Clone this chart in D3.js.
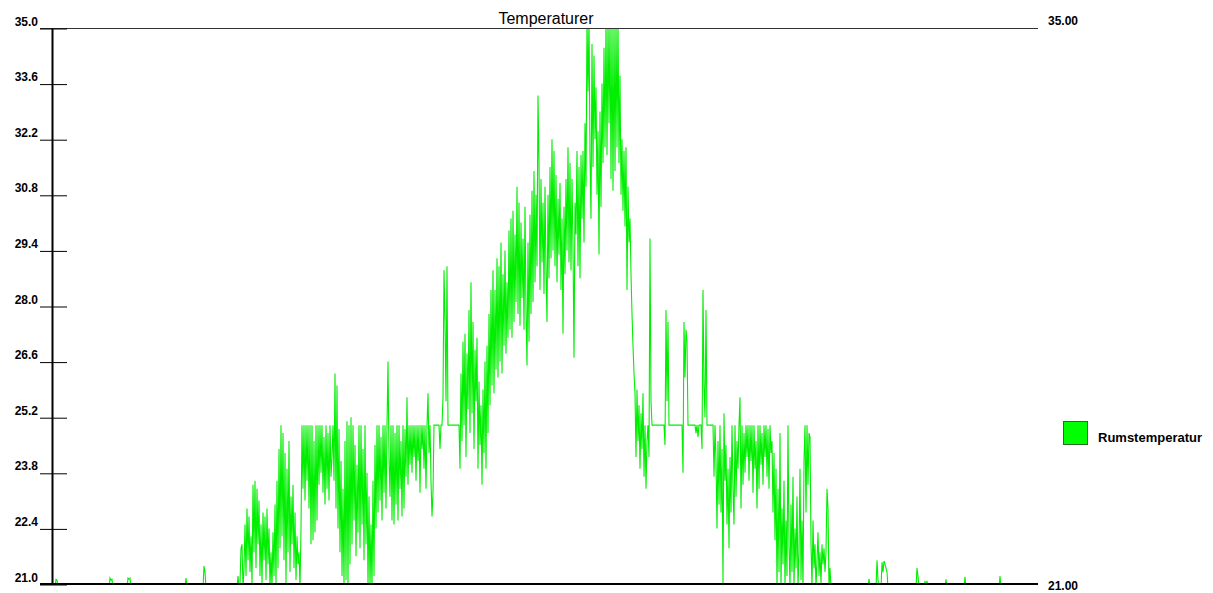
<html>
  <head>
    <title>Temperaturer</title>
    <meta charset="utf-8" />
    <script src="https://cdnjs.cloudflare.com/ajax/libs/d3/7.6.1/d3.min.js"></script>
    <style>
      body {
        margin: 0;
        background: #ffffff;
      }
      svg {
        display: block;
        font-family: Arial, "Liberation Sans", sans-serif;
      }
      .ylab text {
        font-size: 12px;
        font-weight: bold;
        fill: #000;
      }
    </style>
  </head>
  <body>
    <svg width="1213" height="593"></svg>
  </body>

  <script>
    const chartTitle = "Temperaturer";
    const seriesName = "Rumstemperatur";
    const yTicks = [21.0, 22.4, 23.8, 25.2, 26.6, 28.0, 29.4, 30.8, 32.2, 33.6, 35.0];
    const rightTicks = [35, 21];

    // one reading per pixel column of the original plot
    const rumstemperatur = [
      20.9, 20.9, 20.9, 20.9, 21.12, 21.1, 20.9, 20.9, 20.9, 20.9, 20.9, 20.9, 20.9, 20.9, 20.9, 20.9, 20.9, 20.9, 20.9, 20.9,
      20.9, 20.9, 20.9, 20.9, 20.9, 20.9, 20.9, 20.9, 20.9, 20.9, 20.9, 20.9, 20.9, 20.9, 20.9, 20.9, 20.9, 20.9, 20.9, 20.9,
      20.9, 20.9, 20.9, 20.9, 20.9, 20.9, 20.9, 20.9, 20.9, 20.9, 20.9, 20.9, 20.9, 20.9, 20.9, 20.9, 20.9, 20.9, 21.15, 21.1,
      21.12, 20.9, 20.9, 20.9, 20.9, 20.9, 20.9, 20.9, 20.9, 20.9, 20.9, 20.9, 20.9, 20.9, 20.9, 20.9, 21.15, 21.12, 21.15, 20.9,
      20.9, 20.9, 20.9, 20.9, 20.9, 20.9, 20.9, 20.9, 20.9, 20.9, 20.9, 20.9, 20.9, 20.9, 20.9, 20.9, 20.9, 20.9, 20.9, 20.9,
      20.9, 20.9, 20.9, 20.9, 20.9, 20.9, 20.9, 20.9, 20.9, 20.9, 20.9, 20.9, 20.9, 20.9, 20.9, 20.9, 20.9, 20.9, 20.9, 20.9,
      20.9, 20.9, 20.9, 20.9, 20.9, 20.9, 20.9, 20.9, 20.9, 20.9, 20.9, 20.9, 20.9, 20.9, 21.15, 20.9, 20.9, 20.9, 20.9, 20.9,
      20.9, 20.9, 20.9, 20.9, 20.9, 20.9, 20.9, 20.9, 20.9, 20.9, 20.9, 20.9, 21.45, 21.3, 20.9, 20.9, 20.9, 20.9, 20.9, 20.9,
      20.9, 20.9, 20.9, 20.9, 20.9, 20.9, 20.9, 20.9, 20.9, 20.9, 20.9, 20.9, 20.9, 20.9, 20.9, 20.9, 20.9, 20.9, 20.9, 20.9,
      20.9, 20.9, 20.9, 20.9, 20.9, 20.9, 21.2, 20.9, 21.0, 21.9, 22.0, 20.9, 21.4, 22.5, 21.2, 22.9, 21.6, 22.7, 21.3, 22.2,
      21.0, 23.5, 21.8, 23.6, 21.4, 23.4, 22.0, 23.1, 21.2, 22.5, 21.0, 22.8, 21.6, 22.7, 21.1, 22.9, 21.5, 22.4, 20.9, 21.8,
      20.9, 22.3, 21.2, 23.0, 21.0, 23.6, 21.4, 24.4, 21.9, 25.0, 22.2, 24.8, 21.6, 24.3, 21.0, 23.9, 21.8, 24.6, 21.3, 23.2,
      22.0, 23.5, 21.4, 22.8, 21.1, 22.2, 21.5, 21.8, 20.9, 22.4, 25.0, 23.4, 25.0, 23.1, 25.0, 23.6, 25.0, 22.9, 25.0, 22.0,
      25.0, 22.1, 24.6, 22.3, 25.0, 22.6, 25.0, 23.5, 25.0, 23.8, 25.0, 23.3, 24.7, 23.0, 25.0, 23.4, 24.8, 23.1, 25.0, 23.7,
      24.2, 25.0, 23.6, 26.3, 22.9, 26.0, 22.4, 24.9, 21.8, 24.1, 21.2, 23.4, 20.9, 24.6, 21.1, 25.1, 20.9, 25.0, 21.5, 25.2,
      22.0, 25.0, 22.6, 24.5, 21.7, 24.0, 22.3, 25.0, 21.9, 25.0, 22.5, 24.4, 21.6, 25.0, 22.0, 23.8, 20.9, 23.2, 20.9, 22.5,
      20.9, 23.6, 21.2, 24.5, 22.4, 25.0, 22.8, 25.0, 23.1, 24.7, 22.6, 25.0, 23.3, 25.0, 22.9, 25.0, 26.6, 24.2, 23.2, 25.0,
      22.6, 25.0, 22.5, 24.8, 23.0, 25.0, 22.6, 25.0, 23.4, 24.6, 22.7, 25.0, 22.9, 24.9, 23.7, 25.7, 23.5, 25.0, 24.0, 25.0,
      23.8, 25.0, 24.2, 25.0, 23.6, 25.0, 24.1, 25.0, 23.3, 25.0, 24.4, 25.0, 23.9, 25.0, 23.4, 25.0, 25.8, 24.3, 25.0, 23.6,
      22.7, 23.3, 25.0, 25.0, 25.0, 25.0, 25.0, 25.0, 24.4, 25.0, 25.0, 25.7, 28.9, 27.6, 25.6, 29.0, 25.0, 25.0, 25.0, 25.0,
      25.0, 25.0, 25.0, 25.0, 25.0, 25.0, 25.0, 25.0, 23.9, 26.3, 24.6, 27.1, 25.0, 27.3, 24.2, 26.8, 25.4, 27.9, 24.8, 28.6,
      25.3, 27.6, 24.4, 26.9, 25.6, 27.2, 23.9, 26.1, 24.5, 25.5, 23.5, 25.9, 24.3, 26.6, 23.9, 27.0, 24.8, 27.8, 25.5, 28.4,
      26.0, 28.9, 25.8, 28.4, 26.4, 29.2, 26.2, 29.0, 26.6, 29.6, 26.3, 28.8, 27.0, 29.4, 26.8, 28.6, 27.2, 29.9, 27.4, 30.2,
      27.2, 30.4, 27.6, 29.8, 28.1, 31.0, 27.8, 30.6, 27.5, 30.1, 28.2, 29.7, 27.4, 30.5, 27.9, 26.5, 29.6, 27.1, 30.3, 27.8,
      30.9, 28.1, 31.4, 28.6, 30.8, 29.0, 33.3, 31.6, 28.4, 31.2, 29.1, 30.6, 28.3, 31.0, 28.9, 27.6, 30.8, 28.7, 31.5, 29.2,
      32.2, 29.4, 31.9, 29.0, 31.3, 28.6, 30.7, 29.3, 31.1, 28.4, 30.2, 27.3, 30.5, 28.8, 31.2, 29.4, 32.0, 29.1, 31.6, 28.9,
      31.2, 29.5, 26.7, 30.6, 29.8, 31.9, 29.0, 31.5, 28.7, 31.8, 30.2, 31.9, 29.6, 32.6, 31.0, 35.2, 33.4, 35.2, 31.8, 30.2,
      34.6, 31.5, 34.3, 32.2, 33.5, 30.8, 32.4, 29.3, 32.9, 30.5, 33.6, 31.6, 34.5, 32.0, 35.2, 31.8, 35.2, 32.6, 35.2, 31.2,
      35.2, 30.9, 35.2, 31.4, 35.2, 32.0, 35.2, 31.6, 33.8, 30.8, 32.2, 30.4, 31.9, 30.0, 32.0, 28.4, 31.0, 29.6, 30.2, 28.8,
      27.8, 27.0, 26.3, 25.8, 24.2, 25.9, 24.6, 25.5, 23.9, 25.3, 24.4, 25.8, 23.7, 25.0, 23.4, 24.6, 25.0, 24.2, 29.7, 25.6,
      25.0, 25.0, 25.0, 25.0, 25.0, 25.0, 25.0, 25.0, 25.0, 25.0, 25.0, 25.0, 25.0, 24.5, 27.9, 25.6, 27.6, 25.0, 25.0, 25.0,
      25.0, 25.0, 25.0, 25.0, 25.0, 25.0, 25.0, 25.0, 25.0, 25.0, 25.0, 23.8, 27.6, 26.2, 27.4, 27.1, 25.0, 25.0, 25.0, 25.0,
      25.0, 25.0, 25.0, 25.0, 24.8, 25.0, 24.7, 25.0, 25.0, 25.0, 24.4, 28.4, 26.0, 25.2, 27.9, 25.0, 25.0, 25.0, 25.0, 25.0,
      25.0, 25.0, 23.7, 25.0, 24.1, 22.4, 24.6, 23.0, 25.0, 22.8, 24.4, 21.0, 25.3, 23.6, 24.5, 22.5, 23.9, 21.9, 24.2, 22.8,
      25.0, 23.4, 22.5, 25.0, 23.2, 24.6, 23.9, 25.0, 25.7, 22.9, 25.0, 23.5, 24.8, 23.8, 25.0, 24.2, 25.0, 23.6, 25.0, 24.1,
      25.0, 23.3, 25.0, 23.9, 24.6, 22.9, 25.0, 23.4, 25.0, 24.0, 24.8, 23.5, 25.0, 24.2, 25.0, 23.7, 24.9, 23.4, 25.0, 24.3,
      24.6, 22.8, 24.3, 22.1, 23.9, 20.9, 23.4, 21.3, 24.8, 20.9, 22.9, 21.5, 23.6, 20.9, 22.6, 21.2, 25.0, 22.0, 20.9, 23.0,
      21.3, 23.7, 20.9, 22.4, 21.4, 23.2, 20.9, 21.8, 23.9, 21.1, 22.6, 20.9, 24.1, 25.0, 22.8, 25.0, 23.5, 24.8, 24.7, 22.0,
      20.9, 22.6, 21.4, 22.0, 20.9, 21.6, 22.3, 21.2, 21.8, 21.0, 22.0, 21.5, 21.9, 21.3, 21.8, 23.4, 22.9, 20.9, 21.4, 20.9,
      20.9, 20.9, 20.9, 20.9, 20.9, 20.9, 20.9, 20.9, 20.9, 20.9, 20.9, 20.9, 20.9, 20.9, 20.9, 20.9, 20.9, 20.9, 20.9, 20.9,
      20.9, 20.9, 20.9, 20.9, 20.9, 20.9, 20.9, 20.9, 20.9, 20.9, 20.9, 20.9, 20.9, 20.9, 20.9, 20.9, 20.9, 21.13, 20.9, 20.9,
      20.9, 20.9, 20.9, 20.9, 20.9, 21.6, 21.1, 20.9, 20.9, 20.9, 21.55, 21.3, 21.58, 21.5, 21.4, 21.3, 20.9, 20.9, 20.9, 20.9,
      20.9, 20.9, 20.9, 20.9, 20.9, 20.9, 20.9, 20.9, 20.9, 20.9, 20.9, 20.9, 20.9, 20.9, 20.9, 20.9, 20.9, 20.9, 20.9, 20.9,
      20.9, 20.9, 20.9, 20.9, 20.9, 21.4, 21.2, 20.9, 20.9, 20.9, 20.9, 20.9, 20.9, 21.08, 20.9, 21.08, 20.9, 20.9, 20.9, 20.9,
      20.9, 20.9, 20.9, 20.9, 20.9, 20.9, 20.9, 20.9, 20.9, 20.9, 20.9, 20.9, 20.9, 20.9, 21.12, 20.9, 20.9, 20.9, 20.9, 20.9,
      20.9, 20.9, 20.9, 20.9, 20.9, 20.9, 20.9, 20.9, 20.9, 20.9, 20.9, 20.9, 20.9, 21.18, 20.9, 20.9, 20.9, 20.9, 20.9, 20.9,
      20.9, 20.9, 20.9, 20.9, 20.9, 20.9, 20.9, 20.9, 20.9, 20.9, 20.9, 20.9, 20.9, 20.9, 20.9, 20.9, 20.9, 20.9, 20.9, 20.9,
      20.9, 20.9, 20.9, 20.9, 20.9, 20.9, 20.9, 20.9, 21.2, 20.9, 20.9, 20.9, 20.9, 20.9, 20.9, 20.9, 20.9, 20.9, 20.9, 20.9,
      20.9, 20.9, 20.9, 20.9, 20.9, 20.9, 20.9, 20.9, 20.9, 20.9, 20.9, 20.9, 20.9, 20.9, 20.9, 20.9, 20.9, 20.9, 20.9, 20.9,
      20.9, 20.9, 20.9, 20.9, 20.9, 20.9, 20.9,
    ];

    const svg = d3.select("svg");

    const plotLeft = 52,
      plotRight = 1038,
      plotTop = 28,
      plotBottom = 584;

    const xScale = d3
      .scaleLinear()
      .domain([0, rumstemperatur.length - 1])
      .range([plotLeft, plotRight]);
    const yScale = d3.scaleLinear().domain([21, 35]).range([plotBottom, plotTop]);

    svg
      .append("clipPath")
      .attr("id", "plotclip")
      .append("rect")
      .attr("x", plotLeft)
      .attr("y", plotTop)
      .attr("width", plotRight - plotLeft)
      .attr("height", plotBottom - plotTop);

    // title
    svg
      .append("text")
      .attr("x", 546)
      .attr("y", 24)
      .attr("text-anchor", "middle")
      .style("font-size", "16px")
      .text(chartTitle);

    // data line
    const line = d3
      .line()
      .x((d, i) => xScale(i))
      .y((d) => yScale(d));

    svg
      .append("path")
      .datum(rumstemperatur)
      .attr("clip-path", "url(#plotclip)")
      .attr("fill", "none")
      .attr("stroke", "#00ee00")
      .attr("stroke-width", 1.1)
      .attr("d", line);

    // top and bottom frame lines
    svg
      .append("line")
      .attr("x1", 40)
      .attr("x2", plotRight)
      .attr("y1", yScale(35) + 0.5)
      .attr("y2", yScale(35) + 0.5)
      .attr("stroke", "#333")
      .attr("stroke-width", 1);
    svg
      .append("line")
      .attr("x1", 40)
      .attr("x2", plotRight)
      .attr("y1", yScale(21))
      .attr("y2", yScale(21))
      .attr("stroke", "#000")
      .attr("stroke-width", 2);

    // left axis
    const yAxis = d3
      .axisLeft(yScale)
      .tickValues(yTicks)
      .tickFormat(d3.format(".1f"))
      .tickSize(0);
    const yAxisG = svg
      .append("g")
      .attr("class", "ylab")
      .attr("transform", `translate(${plotLeft},0)`)
      .call(yAxis);
    yAxisG.select("path.domain").attr("stroke", "#000").attr("stroke-width", 2);
    yAxisG
      .selectAll(".tick line")
      .attr("x1", -12)
      .attr("x2", 15)
      .attr("y1", 0.5)
      .attr("y2", 0.5)
      .attr("stroke", "#000");
    yAxisG
      .selectAll(".tick text")
      .attr("x", -14)
      .attr("dy", "-0.25em")
      .style("font-family", "Arial, 'Liberation Sans', sans-serif");

    // right labels
    svg
      .selectAll("text.rlab")
      .data(rightTicks)
      .enter()
      .append("text")
      .attr("class", "rlab")
      .attr("x", 1048)
      .attr("y", (d) => (d === 35 ? yScale(d) - 3 : yScale(d) + 6))
      .style("font-size", "12px")
      .style("font-weight", "bold")
      .text((d) => d3.format(".2f")(d));

    // legend
    svg
      .append("rect")
      .attr("x", 1063.5)
      .attr("y", 421.5)
      .attr("width", 24)
      .attr("height", 23)
      .attr("fill", "#00ff00")
      .attr("stroke", "#2a6a2a")
      .attr("stroke-width", 1);
    svg
      .append("text")
      .attr("x", 1098)
      .attr("y", 442)
      .style("font-size", "13px")
      .style("font-weight", "bold")
      .text(seriesName);
  </script>
</html>
